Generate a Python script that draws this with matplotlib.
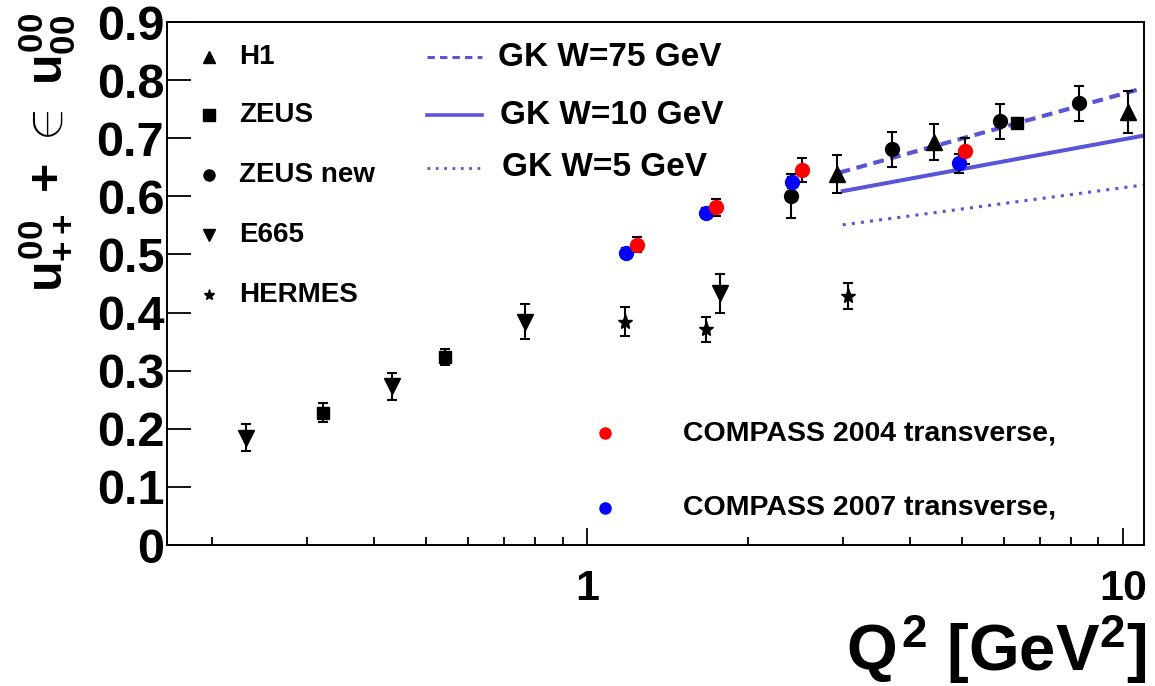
import matplotlib
matplotlib.use("Agg")
from matplotlib import pyplot as plt
from matplotlib.ticker import FixedLocator, FixedFormatter, NullFormatter
from matplotlib.lines import Line2D

plt.rcParams['font.family'] = ['Liberation Sans', 'DejaVu Sans']
plt.rcParams['font.weight'] = 'bold'
plt.rcParams['mathtext.fontset'] = 'custom'
plt.rcParams['mathtext.rm'] = 'Liberation Sans:bold'
plt.rcParams['mathtext.it'] = 'Liberation Sans:bold'
plt.rcParams['mathtext.bf'] = 'Liberation Sans:bold'

# measured u00++ + eps u00_00 versus Q^2
h1_q2 = [2.93, 4.44, 10.2]
h1_u = [0.638, 0.693, 0.745]
h1_err = [0.033, 0.031, 0.036]

zeus_q2 = [0.322, 0.543, 6.34]
zeus_u = [0.228, 0.324, 0.726]
zeus_err = [0.016, 0.014, 0.008]

zeus_new_q2 = [2.40, 3.71, 5.90, 8.28]
zeus_new_u = [0.600, 0.681, 0.729, 0.760]
zeus_new_err = [0.038, 0.030, 0.030, 0.030]

e665_q2 = [0.231, 0.433, 0.766, 1.77]
e665_u = [0.185, 0.273, 0.384, 0.433]
e665_err = [0.023, 0.023, 0.030, 0.034]

hermes_q2 = [1.177, 1.667, 3.07]
hermes_u = [0.384, 0.371, 0.429]
hermes_err = [0.025, 0.022, 0.022]

compass04_q2 = [1.24, 1.74, 2.52, 5.07]
compass04_u = [0.517, 0.581, 0.645, 0.678]
compass04_err = [0.013, 0.015, 0.021, 0.022]

compass07_q2 = [1.182, 1.667, 2.41, 4.94]
compass07_u = [0.503, 0.572, 0.624, 0.657]
compass07_err = [0.008, 0.008, 0.010, 0.016]

# GK model curves
gk75_q2 = [2.96, 10.7]
gk75_u = [0.641, 0.784]
gk10_q2 = [3.0, 11.0]
gk10_u = [0.609, 0.705]
gk5_q2 = [3.0, 11.0]
gk5_u = [0.551, 0.620]

gk_color = '#5954d8'

fig = plt.figure(figsize=(11.55, 6.86), dpi=100)
ax = fig.add_axes([0.1446, 0.2055, 0.8459, 0.7624])
ax.set_xscale('log')
ax.set_xlim(0.1645, 10.95)
ax.set_ylim(0, 0.9)

ax.plot(gk75_q2, gk75_u, color=gk_color, lw=3, linestyle=(0, (2.6, 1.6)))
ax.plot(gk10_q2, gk10_u, color=gk_color, lw=2.9)
ax.plot(gk5_q2, gk5_u, color=gk_color, lw=2.2, linestyle=(0, (1, 2)))

err_kw = dict(linestyle='none', ecolor='black', elinewidth=1.5, capsize=3.6, capthick=1.5)
ax.errorbar(e665_q2, e665_u, yerr=e665_err, marker='v', ms=11, color='black', **err_kw)
ax.errorbar(zeus_q2, zeus_u, yerr=zeus_err, marker='s', ms=9, color='black', **err_kw)
ax.errorbar(hermes_q2, hermes_u, yerr=hermes_err, marker='*', ms=11, color='black', **err_kw)
ax.errorbar(h1_q2, h1_u, yerr=h1_err, marker='^', ms=11, color='black', **err_kw)
ax.errorbar(zeus_new_q2, zeus_new_u, yerr=zeus_new_err, marker='o', ms=10, color='black', **err_kw)
ax.errorbar(compass07_q2, compass07_u, yerr=compass07_err, marker='o', ms=10, color='#0000ff',
            mec='#0000ff', **err_kw)
ax.errorbar(compass04_q2, compass04_u, yerr=compass04_err, marker='o', ms=10, color='#ff0000',
            mec='#ff0000', **err_kw)

# axes styling
for side in ['top', 'right', 'left', 'bottom']:
    ax.spines[side].set_linewidth(1.4)
ax.xaxis.set_major_locator(FixedLocator([1, 10]))
ax.xaxis.set_major_formatter(FixedFormatter(['1', '10']))
ax.xaxis.set_minor_locator(FixedLocator([0.2, 0.3, 0.4, 0.5, 0.6, 0.7, 0.8, 0.9,
                                         2, 3, 4, 5, 6, 7, 8, 9]))
ax.xaxis.set_minor_formatter(NullFormatter())
ax.set_yticks([0, 0.1, 0.2, 0.3, 0.4, 0.5, 0.6, 0.7, 0.8, 0.9])
ax.set_yticklabels(['0', '0.1', '0.2', '0.3', '0.4', '0.5', '0.6', '0.7', '0.8', '0.9'])
ax.tick_params(axis='y', which='major', direction='in', length=17, width=1.3,
               labelsize=35, pad=2)
ax.tick_params(axis='x', which='major', direction='in', length=12, width=1.3,
               labelsize=31, pad=17)
ax.tick_params(axis='x', which='minor', direction='in', length=6, width=1.3)
for lab in ax.get_xticklabels() + ax.get_yticklabels():
    lab.set_fontweight('bold')

# marker legend
tr = ax.transAxes
legend_rows = [('^', 'H1', 0.933), ('s', 'ZEUS', 0.822), ('o', 'ZEUS new', 0.707),
               ('v', 'E665', 0.593), ('*', 'HERMES', 0.478)]
for mk, name, yy in legend_rows:
    ax.add_line(Line2D([0.043], [yy], transform=tr, marker=mk, ms=8, color='black',
                       linestyle='none'))
    ax.text(0.074, yy, name, transform=tr, fontsize=20, fontweight='bold', va='center')

# model legend
gk_rows = [((0, (2.4, 1.7)), 2.2, 'GK W=75 GeV', 0.933, 0.339),
           ('-', 2.6, 'GK W=10 GeV', 0.822, 0.341),
           ((0, (1, 2)), 2.0, 'GK W=5 GeV', 0.721, 0.343)]
for ls, lw, name, yy, xt in gk_rows:
    ax.add_line(Line2D([0.266, 0.322], [yy, yy], transform=tr, color=gk_color, lw=lw,
                       linestyle=ls))
    ax.text(xt, yy, name, transform=tr, fontsize=24, fontweight='bold', va='center')

# COMPASS legend
for col, name, yy in [('#ff0000', 'COMPASS 2004 transverse,', 0.214),
                      ('#0000ff', 'COMPASS 2007 transverse,', 0.071)]:
    ax.add_line(Line2D([0.448], [yy], transform=tr, marker='o', ms=8, color=col,
                       linestyle='none'))
    ax.text(0.528, yy, name, transform=tr, fontsize=20.5, fontweight='bold', va='center')

fig.text(47 / 1155, 1 - 152 / 686, r'$u^{00}_{++}$ + $\in$ $u^{00}_{00}$', rotation=90,
         fontsize=36, fontweight='bold', ha='center', va='center')
fig.text(1146 / 1155, 1 - 650 / 686, r'$Q^{2}$ [GeV$^{2}$]', fontsize=47,
         fontweight='bold', ha='right', va='center')

fig.savefig('out.png', dpi=100)
